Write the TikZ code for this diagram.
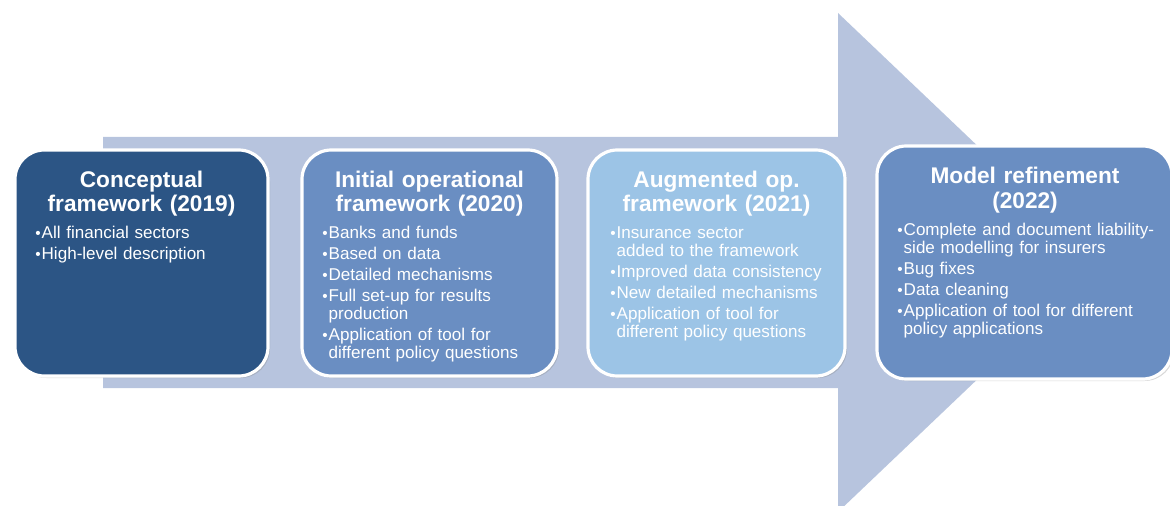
\documentclass[tikz,border=0pt]{standalone}
\usepackage{fontspec}
\setmainfont{Liberation Sans}
\usetikzlibrary{shadows,fit}
\definecolor{arrowc}{HTML}{B7C4DE}
\definecolor{boxa}{HTML}{2C5585}
\definecolor{boxb}{HTML}{6A8EC2}
\definecolor{boxc}{HTML}{9CC4E6}
\newcommand\bu{\makebox[4.8pt][l]{\fontsize{11.5}{11.5}\selectfont\raisebox{-0.2pt}{\textbullet}}}
\newcommand\hg{\hspace*{4.8pt}}
\begin{document}
\begin{tikzpicture}[x=0.75pt,y=-0.75pt,
  box/.style={draw=white, line width=2.4pt, rounded corners=22pt, inner sep=0pt,
    drop shadow={opacity=0.3,shadow xshift=1.5pt,shadow yshift=-1.5pt}},
  ttl/.style={text=white, font=\fontsize{17}{18}\selectfont\bfseries, align=center,
    text width=185pt, anchor=base, inner sep=0pt},
  bl/.style={text=white, font=\fontsize{12.8}{13.7}\selectfont, align=left,
    text width=200pt, anchor=base west, inner sep=0pt}]
\useasboundingbox (0,0) rectangle (1170,506);
\begin{scope}
\clip (0,0) rectangle (1170,506);
\fill[arrowc] (103,137) -- (838,137) -- (838,13) -- (1100,262.5) -- (838,512) -- (838,388) -- (103,388) -- cycle;
\end{scope}

\node[box, fill=boxa, fit={(15,150) (268,376)}] (n1) {};
\node[box, fill=boxb, fit={(302,150) (557,376)}] (n2) {};
\node[box, fill=boxc, fit={(588,150) (845,376)}] (n3) {};
\node[box, fill=boxb, fit={(877,146) (1172,379)}] (n4) {};

\node[ttl] (t1) at (141.5,187) {Conceptual\\framework (2019)};
\node[ttl] (t2) at (429.5,187) {Initial operational\\framework (2020)};
\node[ttl] (t3) at (716.5,187) {Augmented op.\\framework (2021)};
\node[ttl] (t4) at (1025,184) {Model refinement\\(2022)};

\node[bl] (b1) at (35,238.5) {\bu All financial sectors\\[2pt]\bu High-level description};
\node[bl] (b2) at (322,238.5) {\bu Banks and funds\\[2pt]\bu Based on data\\[2pt]\bu Detailed mechanisms\\[2pt]\bu Full set-up for results\\\hg production\\[2pt]\bu Application of tool for\\\hg different policy questions};
\node[bl] (b3) at (610,238.5) {\bu Insurance sector\\\hg added to the framework\\[2pt]\bu Improved data consistency\\[2pt]\bu New detailed mechanisms\\[2pt]\bu Application of tool for\\\hg different policy questions};
\node[bl] (b4) at (897,235) {\bu Complete and document liability-\\\hg side modelling for insurers\\[2pt]\bu Bug fixes\\[2pt]\bu Data cleaning\\[2pt]\bu Application of tool for different\\\hg policy applications};
\end{tikzpicture}
\end{document}
